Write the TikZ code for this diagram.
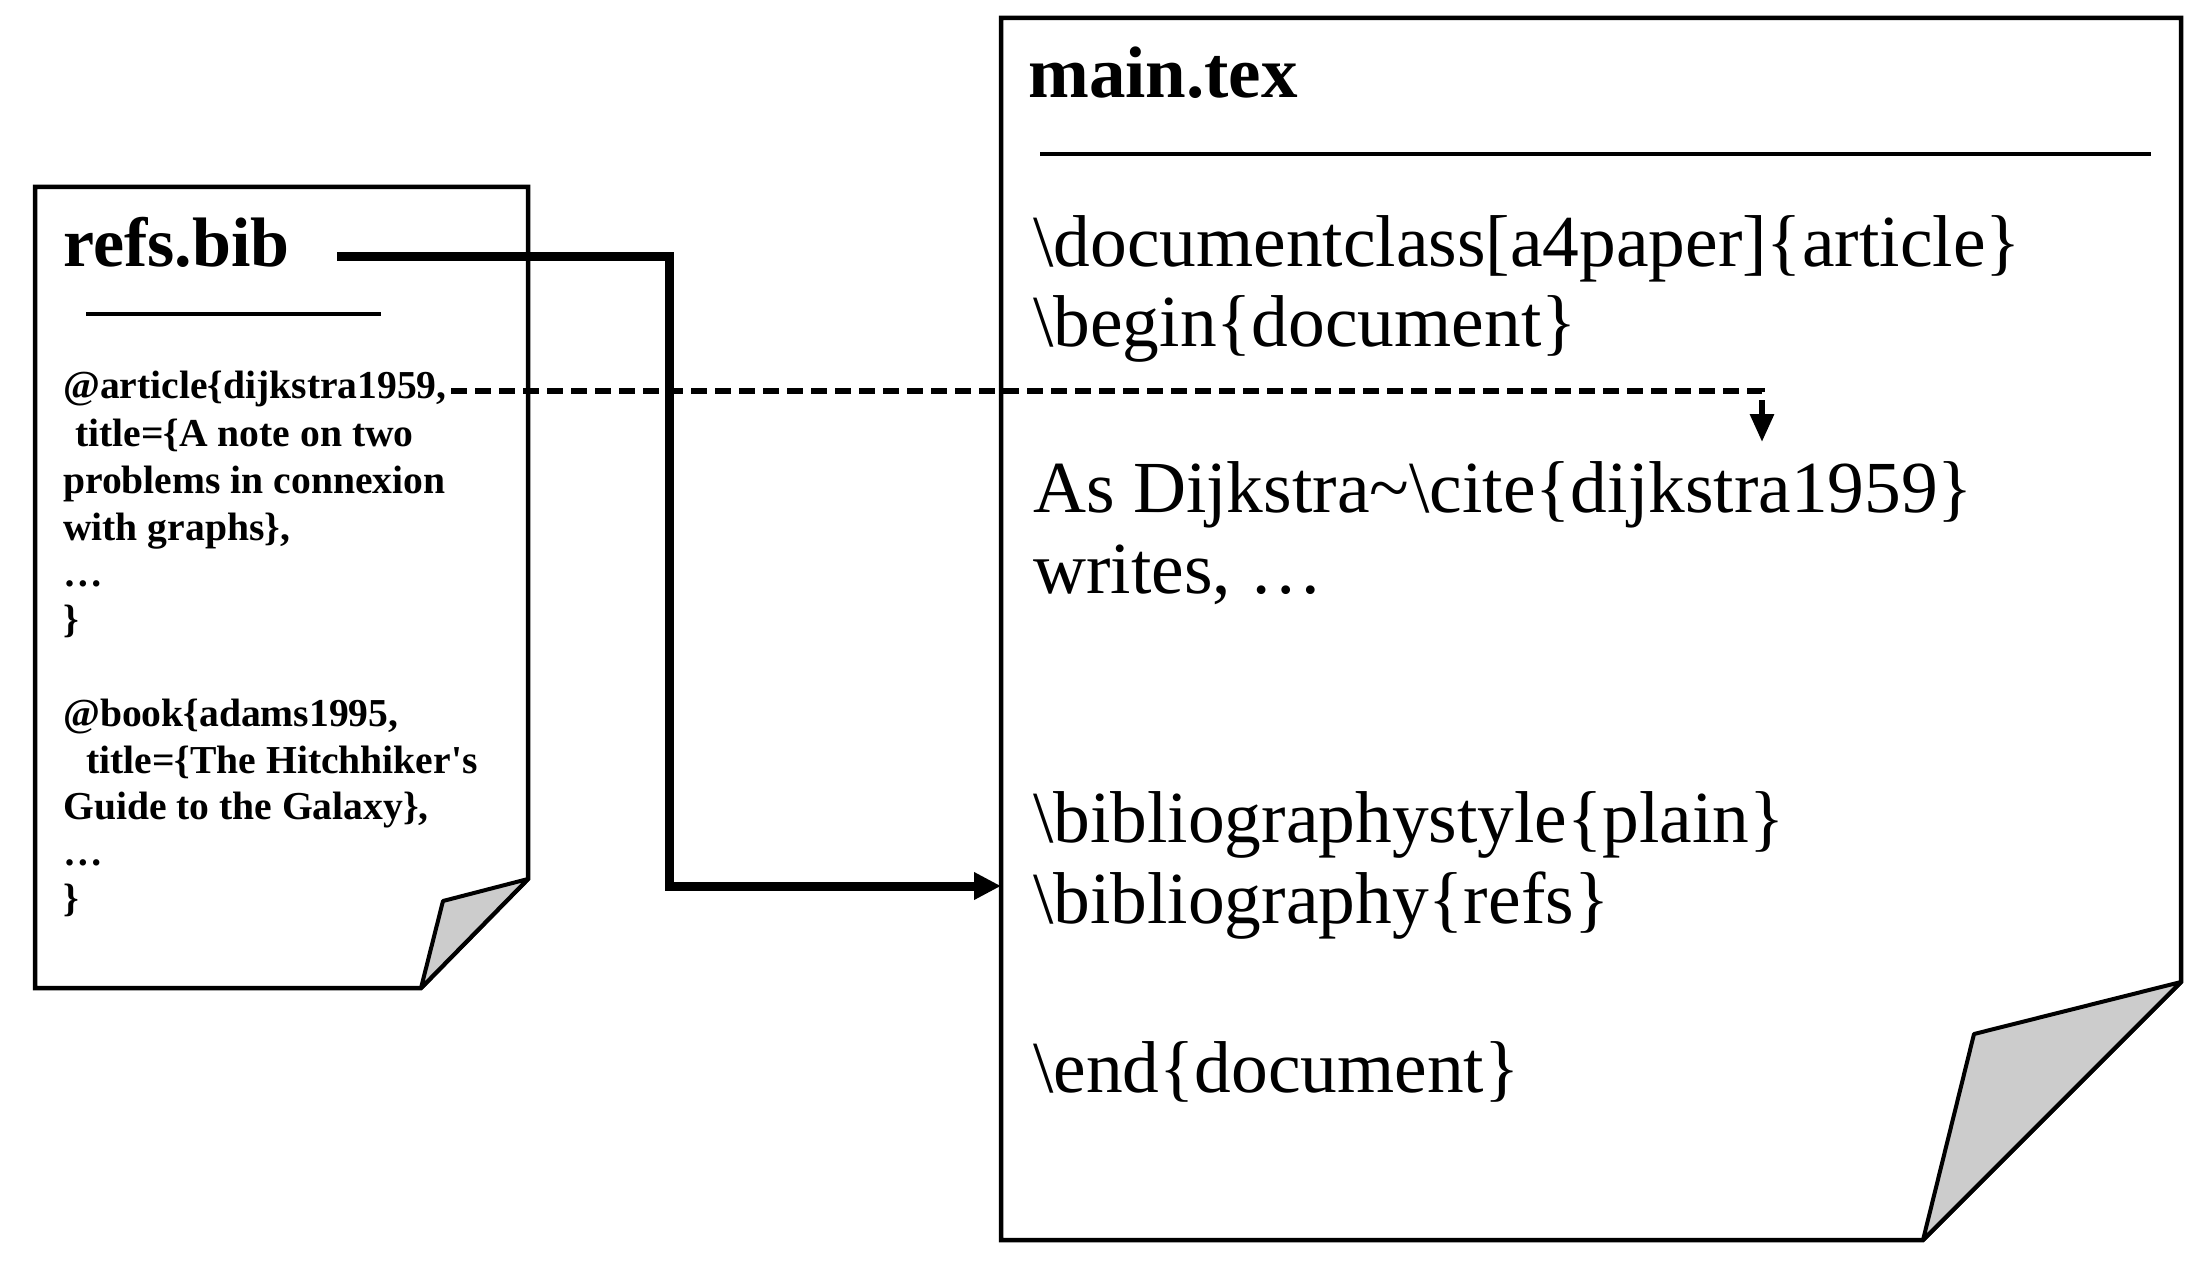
\documentclass[tikz,border=0pt]{standalone}
\usepackage{fontspec}
\setmainfont{Liberation Serif}
\usetikzlibrary{arrows.meta}
\definecolor{flapgray}{gray}{0.8}
\begin{document}
\begin{tikzpicture}[x=1pt,y=-1pt,
  docline/.style={line width=4.5pt, line join=miter},
  flap/.style={line width=4pt, line join=round, fill=flapgray},
  rule/.style={line width=4pt},
  txt/.style={inner sep=0pt, anchor=base west},
  titlebig/.style={txt, font=\bfseries\fontsize{73}{80}\selectfont},
  titlesmall/.style={txt, font=\bfseries\fontsize{70}{80}\selectfont},
  codetxt/.style={txt, font=\fontsize{73.4}{80}\selectfont},
  bibtxt/.style={txt, font=\bfseries\fontsize{39.6}{46}\selectfont},
  solidarrow/.style={line width=9pt, line join=miter, -{Triangle[length=27pt,width=26pt]}},
  dasharrow/.style={line width=6pt, dash pattern=on 16pt off 8pt, -{Triangle[length=28pt,width=23pt]}}
]
\useasboundingbox (0,0) rectangle (2212,1281);

% refs.bib page
\draw[docline, fill=white] (35,187) -- (528,187) -- (528,879) -- (421,988) -- (35,988) -- cycle;
\draw[flap] (528,879) -- (443,901) -- (421,988) -- cycle;
\node[titlesmall] (refstitle) at (63,267) {refs.bib};
\draw[rule] (86,314) -- (381,314);
\node[bibtxt] (b1) at (63,399) {@article\{dijkstra1959,};
\node[bibtxt] (b2) at (75,446) {title=\{A note on two};
\node[bibtxt] (b3) at (63,493) {problems in connexion};
\node[bibtxt] (b4) at (63,540) {with graphs\},};
\node[bibtxt] (b5) at (63,586) {…};
\node[bibtxt] (b6) at (63,632) {\}};
\node[bibtxt] (b7) at (63,726) {@book\{adams1995,};
\node[bibtxt] (b8) at (86,773) {title=\{The Hitchhiker\textquotesingle s};
\node[bibtxt] (b9) at (63,819) {Guide to the Galaxy\},};
\node[bibtxt] (b10) at (63,865) {…};
\node[bibtxt] (b11) at (63,911) {\}};

% main.tex page
\draw[docline, fill=white] (1001,18) -- (2181,18) -- (2181,982) -- (1923,1240) -- (1001,1240) -- cycle;
\draw[flap] (2181,982) -- (1974,1034) -- (1923,1240) -- cycle;
\node[titlebig] (maintitle) at (1028,98) {main.tex};
\draw[rule] (1040,154) -- (2151,154);
\node[codetxt] (m1) at (1033,267) {\textbackslash documentclass[a4paper]\{article\}};
\node[codetxt] (m2) at (1033,347) {\textbackslash begin\{document\}};
\node[codetxt] (m3) at (1033,512) {As Dijkstra\textasciitilde\textbackslash cite\{dijkstra1959\}};
\node[codetxt] (m4) at (1033,593) {writes, …};
\node[codetxt] (m5) at (1033,842) {\textbackslash bibliographystyle\{plain\}};
\node[codetxt] (m6) at (1033,923) {\textbackslash bibliography\{refs\}};
\node[codetxt] (m7) at (1033,1092) {\textbackslash end\{document\}};

% connectors
\coordinate (refsout) at (337,257);
\coordinate (mainin) at (1001,886);
\draw[solidarrow] (refsout) -| (669,886) -- (mainin);
\coordinate (citeout) at (451,391);
\coordinate (citein) at (1762,442);
\draw[dasharrow] (citeout) -| (citein);
\end{tikzpicture}
\end{document}
